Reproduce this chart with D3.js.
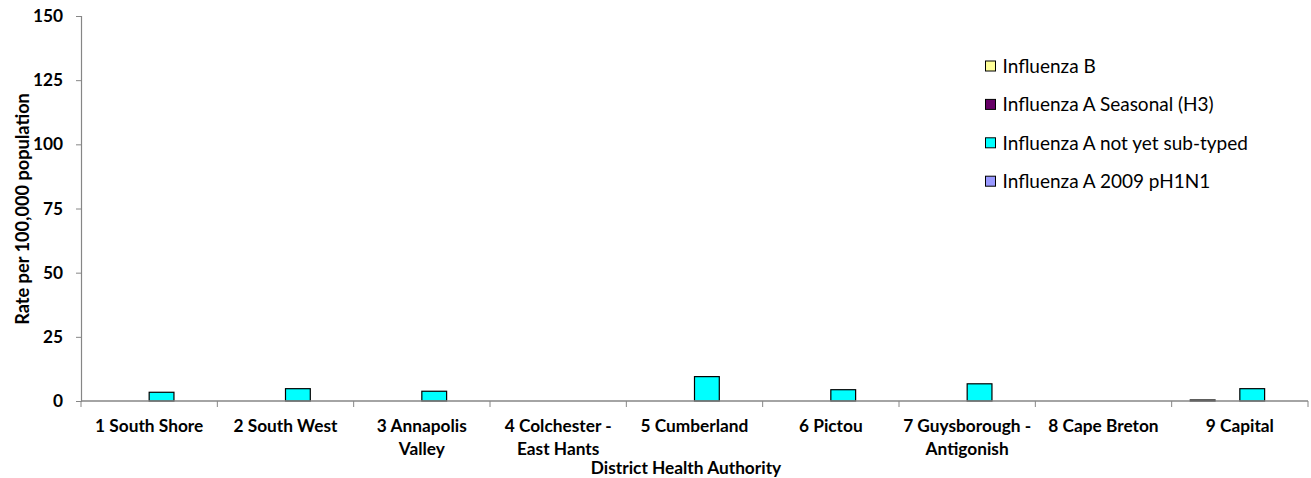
<!DOCTYPE html>
<html>
<head>
<meta charset="utf-8">
<script src="https://cdn.jsdelivr.net/npm/d3@7"></script>
<style>
  html, body { margin: 0; padding: 0; background: #fff; }
  svg text { font-family: Lato, "Open Sans", sans-serif; fill: #000; }
</style>
</head>
<body>
<svg id="chart" width="1311" height="478"></svg>
<script>
// District Health Authorities (x categories)
const categories = [
  "1 South Shore", "2 South West", "3 Annapolis Valley", "4 Colchester - East Hants",
  "5 Cumberland", "6 Pictou", "7 Guysborough - Antigonish", "8 Cape Breton", "9 Capital"
];
// Series names, in legend order
const seriesNames = [
  "Influenza B", "Influenza A Seasonal (H3)", "Influenza A not yet sub-typed", "Influenza A 2009 pH1N1"
];
// Rates per 100,000 population for each series
const influenzaB         = [0, 0, 0, 0, 0, 0, 0, 0, 0.4];
const influenzaAH3       = [0, 0, 0, 0, 0, 0, 0, 0, 0];
const influenzaANotTyped = [3.4, 4.8, 3.8, 0, 9.5, 4.4, 6.7, 0, 4.8];
const influenzaAH1N1     = [0, 0, 0, 0, 0, 0, 0, 0, 0];
const seriesValues = [influenzaB, influenzaAH3, influenzaANotTyped, influenzaAH1N1];
const seriesColors = ["#FFFF99", "#660066", "#00FFFF", "#9999FF"];
// y-axis ticks
const yTicks = [0, 25, 50, 75, 100, 125, 150];

const svg = d3.select("#chart");
const margin = { left: 81, right: 1308, top: 16, bottom: 401 };
const axisColor = "#868686";
const labelSize = "17.3px";

const x = d3.scaleBand().domain(categories).range([margin.left, margin.right]).padding(0);
const y = d3.scaleLinear().domain([0, 150]).range([margin.bottom, margin.top]);

// bars within each category: 4 bars, gap of 1.5 bar widths
const barW = x.bandwidth() / 5.5;
const inner = d3.scaleBand().domain(d3.range(seriesNames.length))
  .range([(x.bandwidth() - 4 * barW) / 2, (x.bandwidth() + 4 * barW) / 2]).padding(0);

// y axis
const yAxis = svg.append("g").attr("transform", `translate(${margin.left},0)`)
  .call(d3.axisLeft(y).tickValues(yTicks).tickSize(5).tickPadding(13));
yAxis.select(".domain").attr("stroke", axisColor).attr("stroke-width", 1.2);
yAxis.selectAll(".tick line").attr("stroke", axisColor);
yAxis.selectAll(".tick text").attr("font-size", labelSize).attr("font-weight", "bold")
  .attr("font-family", "Lato, 'Open Sans', sans-serif").attr("fill", "#000");

// bars
const groups = svg.append("g").selectAll("g").data(categories).join("g")
  .attr("transform", d => `translate(${x(d)},0)`);
groups.selectAll("rect")
  .data((d, i) => seriesValues.map((vals, s) => ({ s, v: vals[i] })).filter(e => e.v > 0))
  .join("rect")
  .attr("x", d => inner(d.s))
  .attr("width", inner.bandwidth())
  .attr("y", d => y(d.v))
  .attr("height", d => y(0) - y(d.v))
  .attr("fill", d => seriesColors[d.s])
  .attr("stroke", "#000")
  .attr("stroke-width", 1.2);

// x axis
const xAxisG = svg.append("g").attr("transform", `translate(0,${margin.bottom})`);
xAxisG.append("line").attr("x1", margin.left).attr("x2", margin.right)
  .attr("stroke", axisColor).attr("stroke-width", 1.5);
const boundaries = categories.map(c => x(c)).concat([margin.right]);
xAxisG.selectAll("line.tk").data(boundaries).join("line").attr("class", "tk")
  .attr("x1", d => d).attr("x2", d => d).attr("y1", 0).attr("y2", 6)
  .attr("stroke", axisColor);

// category labels, wrapped to the band width
const labels = xAxisG.selectAll("text.cat").data(categories).join("text").attr("class", "cat")
  .attr("x", d => x(d) + x.bandwidth() / 2)
  .attr("y", 31)
  .attr("text-anchor", "middle")
  .attr("font-size", labelSize).attr("font-weight", "bold");
labels.each(function (d) {
  const t = d3.select(this);
  const words = d.split(" ");
  const lines = [];
  let cur = [];
  const probe = t.append("tspan");
  words.forEach(w => {
    const test = cur.concat([w]).join(" ");
    probe.text(test);
    if (probe.node().getComputedTextLength() > x.bandwidth() - 3 && cur.length) {
      lines.push(cur.join(" "));
      cur = [w];
    } else {
      cur.push(w);
    }
  });
  lines.push(cur.join(" "));
  probe.remove();
  lines.forEach((ln, i) => {
    t.append("tspan").attr("x", x(d) + x.bandwidth() / 2).attr("dy", i === 0 ? 0 : 23).text(ln);
  });
});

// axis titles
svg.append("text").attr("x", 686).attr("y", 474).attr("text-anchor", "middle")
  .attr("font-size", labelSize).attr("font-weight", "bold").text("District Health Authority");
svg.append("text").attr("transform", "translate(29,209) rotate(-90)").attr("text-anchor", "middle")
  .attr("font-size", "18.2px").attr("font-weight", "bold").text("Rate per 100,000 population");

// legend
const legend = svg.append("g").selectAll("g").data(seriesNames).join("g")
  .attr("transform", (d, i) => `translate(985,${66 + i * 38.4})`);
legend.append("rect").attr("x", 0.5).attr("y", -5).attr("width", 10).attr("height", 10)
  .attr("fill", (d, i) => seriesColors[i]).attr("stroke", "#000").attr("stroke-width", 1);
legend.append("text").attr("x", 17.5).attr("y", 6.8).attr("font-size", "19px").text(d => d);
</script>
</body>
</html>
